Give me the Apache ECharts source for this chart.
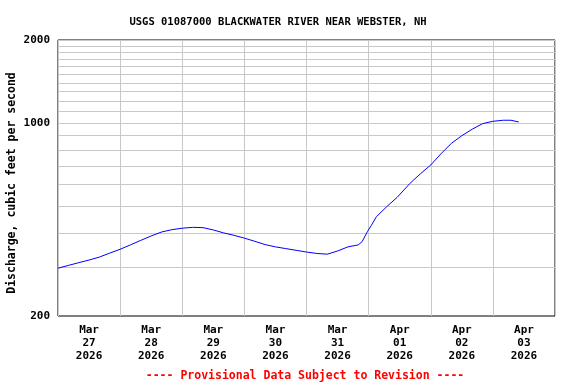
<!DOCTYPE html>
<html>
<head>
<meta charset="utf-8">
<script src="https://cdn.jsdelivr.net/npm/echarts@6/dist/echarts.min.js"></script>
<style>
html,body{margin:0;padding:0;background:#fff;}
#chart{width:576px;height:384px;}
</style>
</head>
<body>
<div id="chart"></div>
<script>
// Hours since 2026-03-27 00:00
var hoursSinceStart = [0,4,8,12,16,20,24,28,32,36,40,44,48,52,56,60,64,68,72,76,80,84,88,92,96,100,104,108,112,116,117.5,119.5,121,123,127,131,136,140,144,148,152,156,160,164,168,172,175,178];
// Discharge, cfs
var discharge = [298,305,312,319,327,338,349,362,376,390,403,411,416,419,418,410,400,392,383,373,363,356,351,346,341,337,335,344,356,362,372,404,425,458,498,538,605,655,705,775,845,900,950,995,1015,1024,1024,1009];
var dayLabels = ['Mar\n27\n2026','Mar\n28\n2026','Mar\n29\n2026','Mar\n30\n2026','Mar\n31\n2026','Apr\n01\n2026','Apr\n02\n2026','Apr\n03\n2026'];
var yLabelValues = [200,1000,2000];
var yGridValues = [300,400,500,600,700,800,900,1000,1100,1200,1300,1400,1500,1600,1700,1800,1900,2000];

var seriesData = hoursSinceStart.map(function(h,i){ return [h, discharge[i]]; });
var dayTicks = [];
for (var d = 0; d <= dayLabels.length; d++) dayTicks.push(d*24);
var noonLabels = dayLabels.map(function(_, i){ return i*24 + 12; });

var FONT = '"DejaVu Sans Mono", "Liberation Mono", monospace';

var chart = echarts.init(document.getElementById('chart'), null, {renderer:'canvas'});
chart.setOption({
  animation:false,
  backgroundColor:'#ffffff',
  title:[{
    text:'USGS 01087000 BLACKWATER RIVER NEAR WEBSTER, NH',
    left:273, top:12, textAlign:'center',
    textStyle:{fontFamily:FONT,fontWeight:'bold',fontSize:10.5,color:'#000'}
  },{
    text:'---- Provisional Data Subject to Revision ----',
    left:300, top:365, textAlign:'center',
    textStyle:{fontFamily:FONT,fontWeight:'bold',fontSize:11.5,color:'#ff0000'}
  }],
  grid:{left:58,right:21,top:40,bottom:68,outerBoundsMode:'none',containLabel:false,show:true,borderColor:'#000',borderWidth:1,backgroundColor:'transparent'},
  xAxis:{
    type:'value',
    min:0, max:dayTicks[dayTicks.length-1], interval:24,
    axisLine:{show:false},
    axisTick:{show:false},
    splitLine:{show:true,lineStyle:{color:'#c8c8c8',width:1}},
    axisLabel:{
      customValues:noonLabels,
      margin:8,
      fontFamily:FONT,fontWeight:'bold',fontSize:11,color:'#000',lineHeight:13,
      formatter:function(v){ return dayLabels[Math.floor(v/24)]; }
    }
  },
  yAxis:{
    type:'log', logBase:10, min:200, max:2000,
    name:'Discharge, cubic feet per second',
    nameLocation:'middle', nameGap:40, nameRotate:90, nameMoveOverlap:false,
    nameTextStyle:{fontFamily:FONT,fontWeight:'bold',fontSize:11.5,color:'#000',padding:[0,10,0,0]},
    axisLine:{show:false},
    axisTick:{show:false, customValues:yGridValues},
    splitLine:{show:true,lineStyle:{color:'#c8c8c8',width:1}},
    axisLabel:{customValues:yLabelValues,margin:8,fontFamily:FONT,fontWeight:'bold',fontSize:11,color:'#000',
      formatter:function(v){ return String(Math.round(v)); }}
  },
  series:[{
    type:'line',
    data:seriesData,
    showSymbol:false,
    symbol:'none',
    lineStyle:{color:'#0000ff',width:1},
    silent:true
  }]
});
</script>
</body>
</html>
